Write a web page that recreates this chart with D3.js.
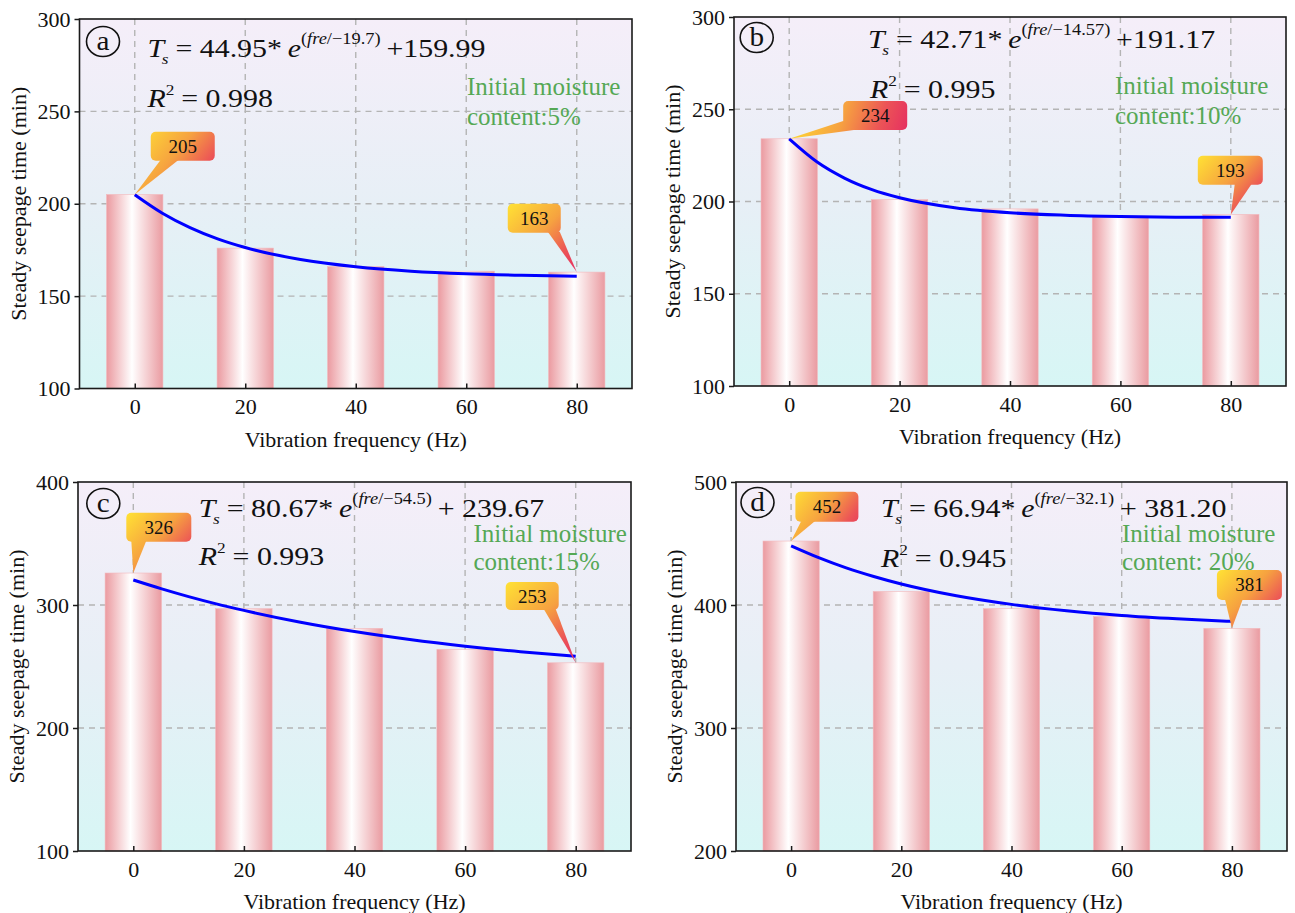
<!DOCTYPE html>
<html>
<head>
<meta charset="utf-8">
<script src="https://cdnjs.cloudflare.com/ajax/libs/d3/7.8.5/d3.min.js"></script>
<style>
  html, body { margin: 0; padding: 0; background: #ffffff; }
  svg { display: block; }
  svg text { font-family: "Liberation Serif", "Times New Roman", Tinos, "DejaVu Serif", "Noto Serif", serif; }
</style>
</head>
<body>
<svg id="chart" width="1295" height="913"></svg>
<script>
// ---- data -------------------------------------------------------------
const frequencies = [0, 20, 40, 60, 80];

// steady seepage time (min) at each vibration frequency
const seepageA = [205, 176, 166, 163.5, 163];
const seepageB = [234, 201, 196, 192, 193];
const seepageC = [326, 297, 281, 264, 253];
const seepageD = [452, 411, 397, 390.5, 381];

// exponential fit curves, sampled along the frequency axis
const fitFreq = [0, 5, 10, 15, 20, 30, 40, 50, 60, 70, 80];
const fitA = [204.9, 194.9, 187.1, 181.0, 176.3, 169.8, 165.9, 163.5, 162.1, 161.3, 160.8];
const fitB = [233.9, 221.5, 212.7, 206.4, 202.0, 196.6, 193.9, 192.6, 191.9, 191.5, 191.4];
const fitC = [320.3, 313.3, 306.8, 300.9, 295.6, 286.2, 278.4, 271.9, 266.5, 262.0, 258.3];
const fitD = [448.1, 438.5, 430.2, 423.2, 417.1, 407.5, 400.5, 395.3, 391.5, 388.8, 386.7];

// y axis tick values
const yTicksA = [100, 150, 200, 250, 300];
const yTicksB = [100, 150, 200, 250, 300];
const yTicksC = [100, 200, 300, 400];
const yTicksD = [200, 300, 400, 500];

// fit equation pieces: coefficient, rate, offset, R²
const eqCoef   = ["44.95", "42.71", "80.67", "66.94"];
const eqRate   = ["\u221219.7", "\u221214.57", "\u221254.5", "\u221232.1"];
const eqOffset = ["+159.99", "+191.17", "+ 239.67", "+ 381.20"];
const r2Values = ["0.998", "0.995", "0.993", "0.945"];

const panelLetters = ["a", "b", "c", "d"];
const moistureLabels = [
  ["Initial moisture", "content:5%"],
  ["Initial moisture", "content:10%"],
  ["Initial moisture", "content:15%"],
  ["Initial moisture", "content: 20%"]
];
// which frequencies carry a value callout
const calloutIdx = [0, 4];

const xTitle = "Vibration frequency (Hz)";
const yTitle = "Steady seepage time (min)";

// ---- layout -----------------------------------------------------------
const STRETCH = 1.15;

const frames = [
  { left: 79.5, top: 19,  right: 632,  bottom: 388.5 },
  { left: 734,  top: 17,  right: 1286, bottom: 386 },
  { left: 78,   top: 482, right: 631,  bottom: 851 },
  { left: 736,  top: 482, right: 1287, bottom: 851 }
];

// positions of text blocks, relative to the plot's top-left corner
const textLayout = [
  { badge: [23.5, 22.5], eq: [68, 37.7],  r2: [68, 88],    green: [387.5, 76, 106] },
  { badge: [22.7, 20.5], eq: [134, 30.7], r2: [136, 80.7], green: [381, 77, 107] },
  { badge: [25.3, 21.5], eq: [120.8, 34.7], r2: [120.8, 83], green: [395.4, 59.7, 88] },
  { badge: [21.5, 20.5], eq: [145, 34.7], r2: [145, 84.7],  green: [386, 59.7, 88] }
];

// callout boxes, offset from the point they label
const calloutLayout = [
  [ { dx: 16,  dy: -62.8, w: 64, h: 29, tail: [[10, 29], [28, 29]] },
    { dx: -69, dy: -68.3, w: 53, h: 29, tail: [[40, 29], [52, 29]] } ],
  [ { dx: 54,  dy: -37.8, w: 64, h: 29, tail: [[0, 21], [18, 29]] },
    { dx: -33, dy: -58.7, w: 65, h: 29, tail: [[37, 29], [54, 29]] } ],
  [ { dx: -7,  dy: -60.3, w: 65, h: 29, tail: [[5, 29], [20, 29]] },
    { dx: -70, dy: -80.8, w: 53, h: 28, tail: [[38, 28], [50, 28]] } ],
  [ { dx: 4.3, dy: -49.3, w: 63, h: 30, tail: [[6, 30], [20, 30]] },
    { dx: -15, dy: -58.4, w: 65, h: 30, tail: [[8, 30], [26, 30]] } ]
];

const panels = [
  { values: seepageA, fit: fitA, yTicks: yTicksA },
  { values: seepageB, fit: fitB, yTicks: yTicksB },
  { values: seepageC, fit: fitC, yTicks: yTicksC },
  { values: seepageD, fit: fitD, yTicks: yTicksD }
];

const svg = d3.select("#chart");
const defs = svg.append("defs");

// plot background: lavender at top fading to pale cyan
const bg = defs.append("linearGradient").attr("id", "plotBg")
  .attr("x1", 0).attr("y1", 0).attr("x2", 0).attr("y2", 1);
bg.append("stop").attr("offset", "0%").attr("stop-color", "#f5eef9");
bg.append("stop").attr("offset", "50%").attr("stop-color", "#e7eff6");
bg.append("stop").attr("offset", "100%").attr("stop-color", "#d7f6f5");

// cylindrical shading on the bars
const barGrad = defs.append("linearGradient").attr("id", "barGrad")
  .attr("x1", 0).attr("y1", 0).attr("x2", 1).attr("y2", 0);
barGrad.append("stop").attr("offset", "0%").attr("stop-color", "#eb9aa0");
barGrad.append("stop").attr("offset", "45%").attr("stop-color", "#ffffff");
barGrad.append("stop").attr("offset", "100%").attr("stop-color", "#ea9ba1");

// callout fill: yellow to red, laid over the callout's own extent
const calloutStops = [
  [0, "#ffe234"], [0.45, "#f6a240"], [0.75, "#ec5556"], [1, "#e52c62"]
];
function calloutGradient(id, x0, y0, x1, y1) {
  const gr = defs.append("linearGradient").attr("id", id)
    .attr("gradientUnits", "userSpaceOnUse")
    .attr("x1", x0).attr("y1", y0).attr("x2", x1).attr("y2", y1);
  calloutStops.forEach(s => gr.append("stop").attr("offset", s[0]).attr("stop-color", s[1]));
  return `url(#${id})`;
}

panels.forEach((p, i) => {
  const f = frames[i];
  const W = f.right - f.left, H = f.bottom - f.top;
  const L = textLayout[i];
  const g = svg.append("g").attr("transform", `translate(${f.left},${f.top})`);

  const x = d3.scaleLinear().domain([-10, 90]).range([0, W]);
  const y = d3.scaleLinear().domain(d3.extent(p.yTicks)).range([H, 0]);

  g.append("rect").attr("width", W).attr("height", H).attr("fill", "url(#plotBg)");

  // dashed grid
  const grid = g.append("g").attr("stroke", "#b4b4b4").attr("stroke-width", 1.4)
    .attr("stroke-dasharray", "6,5").attr("fill", "none");
  grid.selectAll("line.v").data(frequencies).join("line")
    .attr("x1", d => x(d)).attr("x2", d => x(d)).attr("y1", 0).attr("y2", H);
  grid.selectAll("line.h").data(p.yTicks.slice(1, -1)).join("line")
    .attr("x1", 0).attr("x2", W).attr("y1", d => y(d)).attr("y2", d => y(d));

  // bars
  const bw = x(5.1) - x(-5.1);
  g.selectAll("rect.bar").data(frequencies).join("rect").attr("class", "bar")
    .attr("x", d => x(d) - bw / 2)
    .attr("width", bw)
    .attr("y", (d, k) => y(p.values[k]))
    .attr("height", (d, k) => H - y(p.values[k]))
    .attr("fill", "url(#barGrad)")
    .attr("stroke", "#f2b8bc").attr("stroke-width", 0.6);

  // fit curve
  const line = d3.line().x((d, k) => x(fitFreq[k])).y(d => y(d)).curve(d3.curveMonotoneX);
  g.append("path").datum(p.fit).attr("d", line)
    .attr("fill", "none").attr("stroke", "#0000ff").attr("stroke-width", 3);

  // frame
  g.append("rect").attr("width", W).attr("height", H)
    .attr("fill", "none").attr("stroke", "#1a1a1a").attr("stroke-width", 1.6);

  // axes
  const yAxis = g.append("g").call(d3.axisLeft(y).tickValues(p.yTicks).tickSize(5).tickPadding(4));
  const xAxis = g.append("g").attr("transform", `translate(0,${H})`)
    .call(d3.axisBottom(x).tickValues(frequencies).tickSizeInner(-5).tickSizeOuter(0).tickPadding(10));
  [yAxis, xAxis].forEach(ax => {
    ax.attr("font-family", null);
    ax.select(".domain").remove();
    ax.selectAll("line").attr("stroke", "#1a1a1a").attr("stroke-width", 1.5);
    ax.selectAll("text").attr("font-size", 22).attr("fill", "#111");
  });

  // axis titles
  g.append("text").attr("x", W / 2).attr("y", H + 58).attr("text-anchor", "middle")
    .attr("font-size", 22).attr("fill", "#111").text(xTitle);
  g.append("text").attr("transform", `translate(-54,${H / 2}) rotate(-90)`)
    .attr("text-anchor", "middle").attr("font-size", 22)
    .attr("fill", "#111").text(yTitle);

  // circled panel letter
  const badge = g.append("g").attr("transform", `translate(${L.badge[0]},${L.badge[1]})`);
  badge.append("ellipse").attr("rx", 16.5).attr("ry", 15).attr("fill", "none")
    .attr("stroke", "#111").attr("stroke-width", 1.6);
  badge.append("text").attr("transform", "scale(1.08,1)").attr("y", 8.5)
    .attr("text-anchor", "middle").attr("font-size", 27)
    .attr("fill", "#111").text(panelLetters[i]);

  // fit equation
  const eq = g.append("text")
    .attr("transform", `translate(${L.eq[0]},${L.eq[1]}) scale(${STRETCH},1)`)
    .attr("font-size", 26).attr("fill", "#111");
  eq.append("tspan").attr("font-style", "italic").text("T");
  eq.append("tspan").attr("font-style", "italic").attr("font-size", 15).attr("dx", -2).attr("dy", 7).text("s");
  eq.append("tspan").attr("dy", -7).attr("dx", 6).text("= " + eqCoef[i] + "*");
  eq.append("tspan").attr("dx", 5).attr("font-style", "italic").text("e");
  eq.append("tspan").attr("font-size", 16).attr("dy", -13).text("(");
  eq.append("tspan").attr("font-size", 16).attr("font-style", "italic").text("fre");
  eq.append("tspan").attr("font-size", 16).text("/" + eqRate[i] + ")");
  eq.append("tspan").attr("dy", 13).attr("dx", 5).text(eqOffset[i]);

  const r2 = g.append("text")
    .attr("transform", `translate(${L.r2[0]},${L.r2[1]}) scale(${STRETCH},1)`)
    .attr("font-size", 26).attr("fill", "#111");
  r2.append("tspan").attr("font-style", "italic").text("R");
  r2.append("tspan").attr("font-size", 15).attr("dy", -12).text("2");
  r2.append("tspan").attr("dy", 12).attr("dx", 6).text("= " + r2Values[i]);

  // moisture note
  moistureLabels[i].forEach((t, k) => {
    g.append("text").attr("x", L.green[0]).attr("y", L.green[1 + k])
      .attr("font-size", 25).attr("fill", "#55a855").text(t);
  });

  // value callouts at the first and last frequency
  calloutIdx.forEach((idx, c) => {
    const cl = calloutLayout[i][c];
    const v = p.values[idx];
    const ax = x(frequencies[idx]), ay = y(v);
    const bx = ax + cl.dx, by = ay + cl.dy, r = 5;
    const x0 = Math.min(bx, ax), x1 = Math.max(bx + cl.w, ax);
    const y0 = Math.min(by, ay), y1 = Math.max(by + cl.h, ay);
    const fill = calloutGradient(`callout-${i}-${c}`, x0, y0, x1, y1);
    const cg = g.append("g").attr("fill", fill);
    cg.append("rect").attr("x", bx).attr("y", by).attr("width", cl.w).attr("height", cl.h)
      .attr("rx", r);
    cg.append("path").attr("d", d3.line()([
      [bx + cl.tail[0][0], by + cl.tail[0][1] - 1],
      [ax, ay],
      [bx + cl.tail[1][0], by + cl.tail[1][1] - 1]
    ]) + "Z");
    g.append("text").attr("x", bx + cl.w / 2).attr("y", by + cl.h / 2 + 6.5)
      .attr("text-anchor", "middle").attr("font-size", 19)
      .attr("fill", "#111").text(d3.format("d")(v));
  });
});
</script>
</body>
</html>
